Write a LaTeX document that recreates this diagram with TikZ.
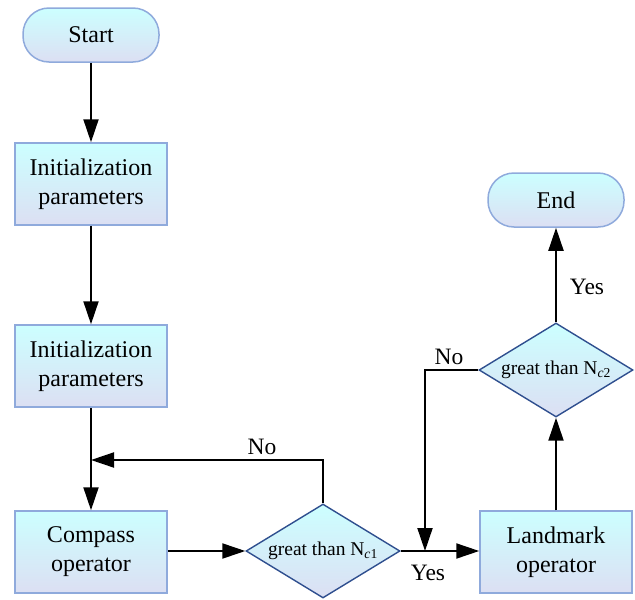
\documentclass[tikz,border=0pt]{standalone}
\usepackage{fontspec}
\setmainfont{Liberation Serif}
\usetikzlibrary{shapes.geometric,arrows.meta}
\definecolor{topc}{HTML}{CCFFFF}
\definecolor{botc}{HTML}{DCDFF3}
\definecolor{boxline}{HTML}{8FAADC}
\definecolor{diamline}{HTML}{2F4F8F}
\tikzset{
  fillgrad/.style={top color=topc, bottom color=botc},
  term/.style={fillgrad, draw=boxline, line width=1.5pt, rounded corners=26pt, minimum width=136pt, minimum height=54pt, font=\fontsize{24}{28}\selectfont},
  proc/.style={fillgrad, draw=boxline, line width=1.5pt, minimum width=152pt, minimum height=82pt, inner sep=0pt, align=center, font=\fontsize{24}{29}\selectfont},
  decis/.style={fillgrad, draw=diamline, line width=1.4pt, diamond, aspect=1.65, inner sep=0pt, minimum width=154pt, minimum height=94pt, font=\fontsize{19.5}{22}\selectfont},
  conn/.style={line width=2pt, -{Triangle[length=23pt,width=15pt]}},
  lbl/.style={font=\fontsize{23.5}{26}\selectfont}
}
\begin{document}
\begin{tikzpicture}[x=1pt,y=-1pt]
\useasboundingbox (0,0) rectangle (635,600);
\node[term] (start) at (91,35) {Start};
\node[proc] (init1) at (91,184) {Initialization\\parameters};
\node[proc] (init2) at (91,366) {Initialization\\parameters};
\node[proc] (comp) at (91,552) {Compass\\operator};
\node[decis] (d1) at (323,551) {great than N\textsubscript{\textit{c}1}};
\node[proc] (land) at (556,552) {Landmark\\operator};
\node[decis] (d2) at (556,370) {great than N\textsubscript{\textit{c}2}};
\node[term] (end) at (556,200) {End};
\coordinate (j1) at (91,460);
\coordinate (j2) at (425,551);
\draw[conn] (start) -- (init1);
\draw[conn] (init1) -- (init2);
\draw[conn] (init2) -- (comp);
\draw[conn] (comp.east |- d1.west) -- (d1.west);
\draw[conn] (d1.east) -- (land.west |- d1.east);
\draw[conn] (d1.north) |- (j1);
\draw[conn] (land) -- (d2);
\draw[conn] (d2) -- (end);
\draw[conn] (d2.west) -| (j2);
\node[lbl] (no1) at (262,447) {No};
\node[lbl] (no2) at (449,357) {No};
\node[lbl] (yes1) at (428,573) {Yes};
\node[lbl] (yes2) at (587,287) {Yes};
\end{tikzpicture}
\end{document}
